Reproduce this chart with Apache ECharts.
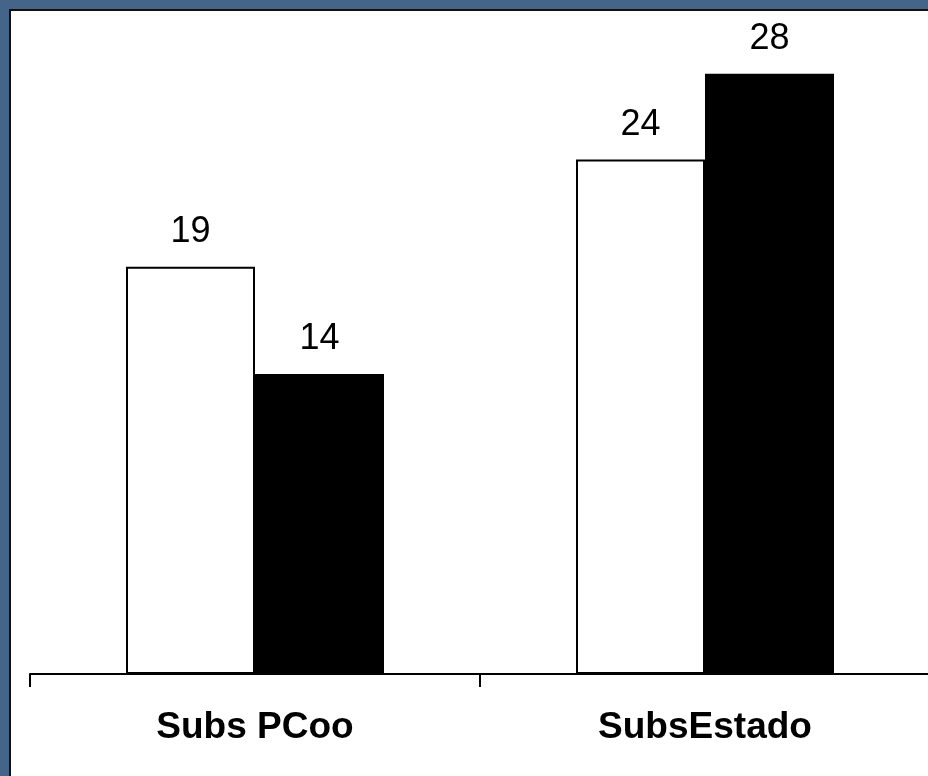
<!DOCTYPE html>
<html>
<head>
<meta charset="utf-8">
<script src="https://cdn.jsdelivr.net/npm/echarts@6/dist/echarts.min.js"></script>
<style>
  html, body { margin: 0; padding: 0; width: 928px; height: 776px; overflow: hidden; background: #456489; }
  #frame { position: absolute; left: 9px; top: 9px; width: 940px; height: 800px; background: #ffffff; border: 2px solid #111111; box-sizing: border-box; }
  /* the plot runs a little past the right edge of the window */
  #chart { position: absolute; left: 0; top: 0; width: 950px; height: 776px; }
</style>
</head>
<body>
<div id="frame"></div>
<div id="chart"></div>
<script>
// Categories and the two series
const categories = ['Subs PCoo', 'SubsEstado'];
const seriesWhite = [19, 24];
const seriesBlack = [14, 28];

const FONT = '"Liberation Sans", Arial, sans-serif';

const chart = echarts.init(document.getElementById('chart'), null, { renderer: 'canvas' });

const labelStyle = {
  show: true,
  position: 'top',
  distance: 17,
  color: '#000',
  fontSize: 36,
  fontFamily: FONT
};

chart.setOption({
  backgroundColor: 'transparent',
  animation: false,
  grid: { left: 30, right: 20, top: 31, bottom: 102 },
  xAxis: {
    type: 'category',
    data: categories,
    axisLine: { lineStyle: { color: '#000', width: 2 } },
    axisTick: { show: true, length: 13, lineStyle: { color: '#000', width: 2 } },
    axisLabel: {
      color: '#000',
      fontSize: 37,
      fontWeight: 'bold',
      fontFamily: FONT,
      margin: 35
    }
  },
  yAxis: {
    type: 'value',
    min: 0,
    max: 30,
    show: false,
    splitLine: { show: false }
  },
  series: [
    {
      type: 'bar',
      data: seriesWhite,
      barWidth: 129,
      barGap: '0%',
      itemStyle: { color: '#ffffff', borderColor: '#000', borderWidth: 2 },
      label: labelStyle
    },
    {
      type: 'bar',
      data: seriesBlack,
      barWidth: 129,
      itemStyle: { color: '#000000', borderColor: '#000', borderWidth: 0 },
      label: labelStyle
    }
  ]
});
</script>
</body>
</html>
